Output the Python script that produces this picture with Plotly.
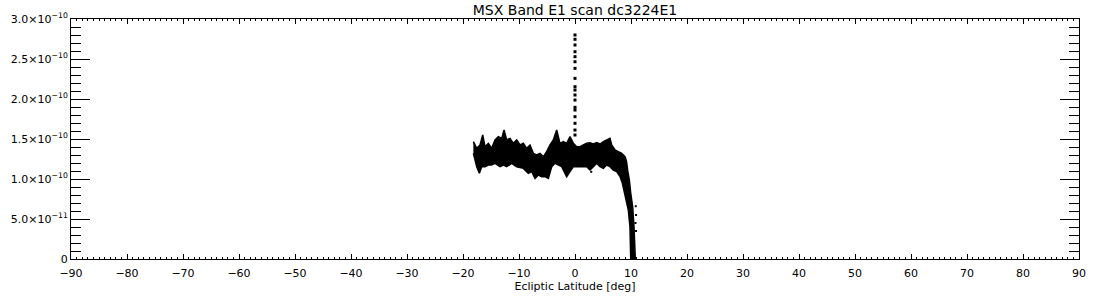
import plotly.graph_objects as go

SCALE = 1e-10

# Upper envelope of the scan band (ecliptic latitude [deg], flux [1e-10])
top_lat = [-18.15, -17.55, -16.96, -16.48, -16.07, -15.47, -14.88, -14.28, -13.69, -13.09,
           -12.67, -12.20, -11.60, -11.01, -10.41, -9.82, -9.22, -8.63, -8.03, -7.44,
           -6.84, -6.25, -5.65, -5.06, -4.46, -3.87, -3.27, -2.68, -2.08, -1.49,
           -0.89, -0.29, 0.30, 0.90, 1.49, 2.09, 2.68, 3.28, 3.87, 4.47,
           5.06, 5.66, 6.25, 6.55, 7.15, 7.74, 8.34, 8.93, 9.20, 9.40,
           9.70, 9.95, 10.30, 10.54, 10.71, 10.77]
top_flux = [1.467, 1.383, 1.425, 1.550, 1.404, 1.446, 1.383, 1.488, 1.529, 1.508,
            1.612, 1.488, 1.508, 1.446, 1.488, 1.425, 1.446, 1.383, 1.425, 1.321,
            1.300, 1.321, 1.279, 1.342, 1.425, 1.488, 1.612, 1.446, 1.467, 1.446,
            1.529, 1.446, 1.404, 1.404, 1.425, 1.446, 1.454, 1.437, 1.454, 1.437,
            1.467, 1.488, 1.508, 1.425, 1.362, 1.342, 1.321, 1.279, 1.220, 1.110,
            0.988, 0.825, 0.650, 0.400, 0.150, 0.0]

# Lower envelope of the scan band
bot_lat = [-18.15, -17.55, -17.08, -16.66, -16.07, -15.47, -14.88, -14.28, -13.39, -12.79,
           -12.20, -11.31, -10.41, -9.22, -8.33, -7.73, -7.14, -6.54, -5.95, -5.35,
           -4.76, -4.16, -3.57, -2.97, -2.38, -1.49, -0.89, -0.29, 0.30, 0.90,
           1.49, 2.09, 2.68, 3.28, 3.87, 4.47, 5.06, 5.66, 6.25, 6.85,
           7.44, 8.04, 8.45, 8.93, 9.52, 9.82, 9.95]
bot_flux = [1.321, 1.154, 1.071, 1.154, 1.154, 1.175, 1.175, 1.196, 1.154, 1.175,
            1.154, 1.196, 1.154, 1.133, 1.071, 1.092, 1.008, 1.050, 1.029, 1.029,
            1.008, 1.154, 1.196, 1.175, 1.154, 1.029, 1.092, 1.154, 1.154, 1.154,
            1.154, 1.154, 1.112, 1.154, 1.196, 1.154, 1.133, 1.175, 1.154, 1.112,
            1.092, 1.030, 0.950, 0.825, 0.612, 0.400, 0.0]

# Point-source spike at latitude 0
spike_lat = [0.0] * 18
spike_flux = [2.800, 2.746, 2.675, 2.591, 2.529, 2.466, 2.383, 2.258, 2.154, 2.112,
              2.050, 1.987, 1.896, 1.862, 1.779, 1.696, 1.612, 1.550]

# Stray samples
stray_lat = [2.90, 10.85, 10.90, 10.80, 10.90]
stray_flux = [1.09, 0.66, 0.55, 0.45, 0.35]

x_ticks = list(range(-90, 91, 10))
x_ticktext = [("\u2212" + str(-v)) if v < 0 else str(v) for v in x_ticks]
y_ticks = [0, 0.5, 1.0, 1.5, 2.0, 2.5, 3.0]
y_ticktext = ["0",
              "5.0\u00d710<sup>\u221211</sup>",
              "1.0\u00d710<sup>\u221210</sup>",
              "1.5\u00d710<sup>\u221210</sup>",
              "2.0\u00d710<sup>\u221210</sup>",
              "2.5\u00d710<sup>\u221210</sup>",
              "3.0\u00d710<sup>\u221210</sup>"]

poly_x = top_lat + bot_lat[::-1]
poly_y = [v * SCALE for v in top_flux + bot_flux[::-1]]

fig = go.Figure()
fig.add_trace(go.Scatter(x=poly_x, y=poly_y, mode="lines", fill="toself",
                         fillcolor="black", line=dict(color="black", width=1.5),
                         hoverinfo="skip", showlegend=False))
fig.add_trace(go.Scatter(x=spike_lat, y=[v * SCALE for v in spike_flux], mode="markers",
                         marker=dict(symbol="square", size=3, color="black"),
                         showlegend=False))
fig.add_trace(go.Scatter(x=stray_lat, y=[v * SCALE for v in stray_flux], mode="markers",
                         marker=dict(symbol="square", size=2, color="black"),
                         showlegend=False))

font = dict(family="DejaVu Sans", size=11, color="black")
fig.update_layout(
    width=1100, height=300,
    margin=dict(l=71, r=21, t=19, b=41),
    paper_bgcolor="white", plot_bgcolor="white",
    font=font,
    title=dict(text="MSX Band E1 scan dc3224E1", x=0.5, xref="paper",
               y=1 - 10 / 300, yref="container", yanchor="middle",
               font=dict(family="DejaVu Sans", size=14, color="black")),
    xaxis=dict(range=[-90, 90], tickvals=x_ticks, ticktext=x_ticktext,
               automargin=False,
               showgrid=False, zeroline=False, showline=True, linecolor="black",
               linewidth=1, mirror="allticks", ticks="inside", ticklen=5,
               tickcolor="black", tickwidth=1, ticklabelstandoff=4,
               minor=dict(dtick=1, ticks="inside", ticklen=2, tickcolor="black",
                          tickwidth=1, showgrid=False),
               title=dict(text="Ecliptic Latitude [deg]", standoff=2,
                          font=dict(family="DejaVu Sans", size=11, color="black"))),
    yaxis=dict(range=[0, 3e-10], tickvals=[v * SCALE for v in y_ticks],
               ticktext=y_ticktext, automargin=False,
               tickfont=dict(family="DejaVu Sans", size=11, color="black"),
               showgrid=False, zeroline=False, showline=True, linecolor="black",
               linewidth=1, mirror="allticks", ticks="inside", ticklen=19,
               tickcolor="black", tickwidth=1,
               minor=dict(dtick=1e-11, ticks="inside", ticklen=10, tickcolor="black",
                          tickwidth=1, showgrid=False)),
)

fig.write_html("out.html")
